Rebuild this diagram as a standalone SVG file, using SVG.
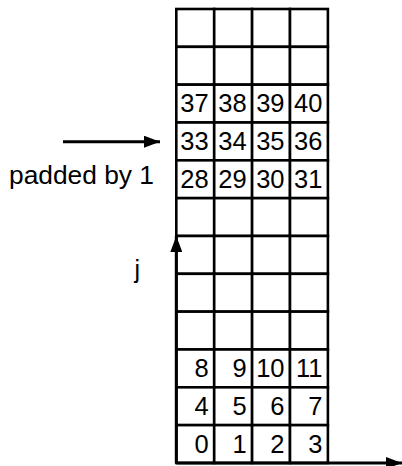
<svg xmlns="http://www.w3.org/2000/svg" width="402" height="466" viewBox="0 0 402 466">
<style>
.c{fill:#fff;stroke:#000;stroke-width:2.6}
.n{font-family:"Liberation Sans",Arial,sans-serif;font-size:25.5px;fill:#000;text-anchor:end}
.l{font-family:"Liberation Sans",Arial,sans-serif;font-size:25px;fill:#000}
.a{stroke:#000;stroke-width:3;fill:none;marker-end:url(#ah)}
</style>
<defs>
<marker id="ah" markerUnits="userSpaceOnUse" markerWidth="16" markerHeight="12" refX="16" refY="6" orient="auto" viewBox="0 0 16 12">
<path d="M0,0 L16,6 L0,12 Z" fill="#000"/>
</marker>
</defs>
<g id="grid">
<g id="row0"><rect class="c" x="176.3" y="9" width="37.9" height="37.83"/><rect class="c" x="214.2" y="9" width="37.9" height="37.83"/><rect class="c" x="252.1" y="9" width="37.9" height="37.83"/><rect class="c" x="290" y="9" width="37.9" height="37.83"/></g>
<g id="row1"><rect class="c" x="176.3" y="46.83" width="37.9" height="37.83"/><rect class="c" x="214.2" y="46.83" width="37.9" height="37.83"/><rect class="c" x="252.1" y="46.83" width="37.9" height="37.83"/><rect class="c" x="290" y="46.83" width="37.9" height="37.83"/></g>
<g id="row2"><rect class="c" x="176.3" y="84.66" width="37.9" height="37.83"/><rect class="c" x="214.2" y="84.66" width="37.9" height="37.83"/><rect class="c" x="252.1" y="84.66" width="37.9" height="37.83"/><rect class="c" x="290" y="84.66" width="37.9" height="37.83"/>
<text class="n" x="208.7" y="112">37</text><text class="n" x="246.6" y="112">38</text><text class="n" x="284.5" y="112">39</text><text class="n" x="322.4" y="112">40</text></g>
<g id="row3"><rect class="c" x="176.3" y="122.49" width="37.9" height="37.83"/><rect class="c" x="214.2" y="122.49" width="37.9" height="37.83"/><rect class="c" x="252.1" y="122.49" width="37.9" height="37.83"/><rect class="c" x="290" y="122.49" width="37.9" height="37.83"/>
<text class="n" x="208.7" y="149.9">33</text><text class="n" x="246.6" y="149.9">34</text><text class="n" x="284.5" y="149.9">35</text><text class="n" x="322.4" y="149.9">36</text></g>
<g id="row4"><rect class="c" x="176.3" y="160.32" width="37.9" height="37.83"/><rect class="c" x="214.2" y="160.32" width="37.9" height="37.83"/><rect class="c" x="252.1" y="160.32" width="37.9" height="37.83"/><rect class="c" x="290" y="160.32" width="37.9" height="37.83"/>
<text class="n" x="208.7" y="187.7">28</text><text class="n" x="246.6" y="187.7">29</text><text class="n" x="284.5" y="187.7">30</text><text class="n" x="322.4" y="187.7">31</text></g>
<g id="row5"><rect class="c" x="176.3" y="198.15" width="37.9" height="37.83"/><rect class="c" x="214.2" y="198.15" width="37.9" height="37.83"/><rect class="c" x="252.1" y="198.15" width="37.9" height="37.83"/><rect class="c" x="290" y="198.15" width="37.9" height="37.83"/></g>
<g id="row6"><rect class="c" x="176.3" y="235.98" width="37.9" height="37.83"/><rect class="c" x="214.2" y="235.98" width="37.9" height="37.83"/><rect class="c" x="252.1" y="235.98" width="37.9" height="37.83"/><rect class="c" x="290" y="235.98" width="37.9" height="37.83"/></g>
<g id="row7"><rect class="c" x="176.3" y="273.81" width="37.9" height="37.83"/><rect class="c" x="214.2" y="273.81" width="37.9" height="37.83"/><rect class="c" x="252.1" y="273.81" width="37.9" height="37.83"/><rect class="c" x="290" y="273.81" width="37.9" height="37.83"/></g>
<g id="row8"><rect class="c" x="176.3" y="311.64" width="37.9" height="37.83"/><rect class="c" x="214.2" y="311.64" width="37.9" height="37.83"/><rect class="c" x="252.1" y="311.64" width="37.9" height="37.83"/><rect class="c" x="290" y="311.64" width="37.9" height="37.83"/></g>
<g id="row9"><rect class="c" x="176.3" y="349.47" width="37.9" height="37.83"/><rect class="c" x="214.2" y="349.47" width="37.9" height="37.83"/><rect class="c" x="252.1" y="349.47" width="37.9" height="37.83"/><rect class="c" x="290" y="349.47" width="37.9" height="37.83"/>
<text class="n" x="208.7" y="376.9">8</text><text class="n" x="246.6" y="376.9">9</text><text class="n" x="284.5" y="376.9">10</text><text class="n" x="322.4" y="376.9">11</text></g>
<g id="row10"><rect class="c" x="176.3" y="387.3" width="37.9" height="37.83"/><rect class="c" x="214.2" y="387.3" width="37.9" height="37.83"/><rect class="c" x="252.1" y="387.3" width="37.9" height="37.83"/><rect class="c" x="290" y="387.3" width="37.9" height="37.83"/>
<text class="n" x="208.7" y="414.7">4</text><text class="n" x="246.6" y="414.7">5</text><text class="n" x="284.5" y="414.7">6</text><text class="n" x="322.4" y="414.7">7</text></g>
<g id="row11"><rect class="c" x="176.3" y="425.13" width="37.9" height="37.83"/><rect class="c" x="214.2" y="425.13" width="37.9" height="37.83"/><rect class="c" x="252.1" y="425.13" width="37.9" height="37.83"/><rect class="c" x="290" y="425.13" width="37.9" height="37.83"/>
<text class="n" x="208.7" y="452.6">0</text><text class="n" x="246.6" y="452.6">1</text><text class="n" x="284.5" y="452.6">2</text><text class="n" x="322.4" y="452.6">3</text></g>
</g>
<g id="connectors">
<line class="a" x1="63" y1="141.7" x2="160" y2="141.7"/>
<line class="a" x1="176.3" y1="463" x2="176.3" y2="236"/>
<line class="a" x1="176.3" y1="463" x2="402" y2="463"/>
</g>
<g id="labels">
<text id="padded" class="l" x="9" y="184" textLength="145" lengthAdjust="spacingAndGlyphs">padded by 1</text>
<text id="j" class="l" x="134.5" y="278">j</text>
</g>
</svg>
